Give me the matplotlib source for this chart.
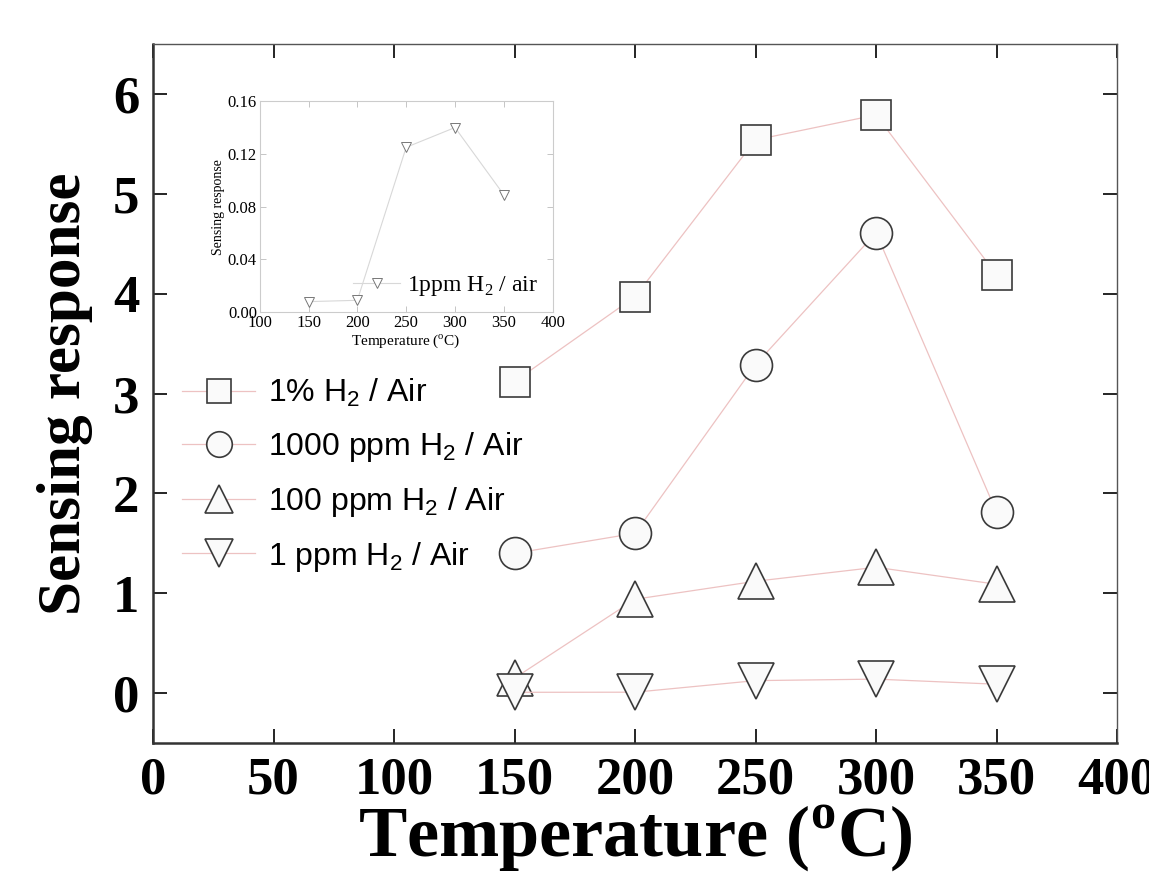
import matplotlib
matplotlib.use("Agg")
import matplotlib.pyplot as plt

plt.rcParams['mathtext.fontset'] = 'custom'
plt.rcParams['mathtext.rm'] = 'Liberation Serif'
plt.rcParams['mathtext.bf'] = 'Liberation Serif:bold'
plt.rcParams['mathtext.sf'] = 'Liberation Sans'

# данные
temps = [150, 200, 250, 300, 350]
h2_1pct = [3.12, 3.97, 5.54, 5.79, 4.19]
h2_1000ppm = [1.40, 1.60, 3.29, 4.61, 1.81]
h2_100ppm = [0.15, 0.94, 1.12, 1.26, 1.09]
h2_1ppm = [0.008, 0.009, 0.125, 0.14, 0.089]

labels = ['1% H$_{\\mathsf{2}}$ / Air', '1000 ppm H$_{\\mathsf{2}}$ / Air',
          '100 ppm H$_{\\mathsf{2}}$ / Air', '1 ppm H$_{\\mathsf{2}}$ / Air']
inset_label = '1ppm H$_{\\mathrm{2}}$ / air'

x_ticks = [0, 50, 100, 150, 200, 250, 300, 350, 400]
y_ticks = [0, 1, 2, 3, 4, 5, 6]
inset_x_ticks = [100, 150, 200, 250, 300, 350, 400]
inset_y_ticks = [0.00, 0.04, 0.08, 0.12, 0.16]

line_color = '#edc2c2'
edge = '#3a3a3a'
face = '#fafafa'

fig = plt.figure(figsize=(11.49, 8.72), dpi=100)
ax = fig.add_axes([0.1332, 0.1479, 0.839, 0.8016])

series = [h2_1pct, h2_1000ppm, h2_100ppm, h2_1ppm]
markers = ['s', 'o', '^', 'v']
sizes = [22, 23, 26, 26]
for vals, m, s, lab in zip(series, markers, sizes, labels):
    ax.plot(temps, vals, color=line_color, lw=0.9, marker=m, ms=s,
            mfc=face, mec=edge, mew=1.2, label=lab)

ax.set_xlim(0, 400)
ax.set_ylim(-0.5, 6.5)
ax.set_xticks(x_ticks)
ax.set_yticks(y_ticks)
ax.tick_params(direction='in', length=10, width=1.2, top=True, right=True,
               pad=10)
for t in ax.get_xticklabels() + ax.get_yticklabels():
    t.set_fontfamily('Liberation Serif')
    t.set_fontweight('bold')
    t.set_fontsize(38)
for side in ['left', 'bottom']:
    ax.spines[side].set_linewidth(1.8)
    ax.spines[side].set_color('#333333')
for side in ['top', 'right']:
    ax.spines[side].set_linewidth(1.0)
    ax.spines[side].set_color('#555555')

ax.set_xlabel('Temperature ($^{\\mathbf{o}}$C)', fontfamily='Liberation Serif',
              fontweight='bold', fontsize=52)
ax.xaxis.set_label_coords(0.5, -0.086)
ax.set_ylabel('Sensing response', fontfamily='Liberation Serif',
              fontweight='bold', fontsize=44)
ax.yaxis.set_label_coords(-0.062, 0.5)

leg = ax.legend(loc='upper left', bbox_to_anchor=(0.0, 0.565),
                frameon=False, prop={'family': 'Liberation Sans', 'size': 23},
                markerscale=0.8, handlelength=2.3, handletextpad=0.4,
                labelspacing=0.65)

# врезка
ins = fig.add_axes([0.226, 0.642, 0.255, 0.242])
ins.plot(temps, h2_1ppm, color='#d8d8d8', lw=0.8, marker='v', ms=7,
         mfc='white', mec='#777777', mew=0.7, label=inset_label)
ins.set_xlim(100, 400)
ins.set_ylim(0, 0.16)
ins.set_xticks(inset_x_ticks)
ins.set_yticks(inset_y_ticks)
ins.set_yticklabels([f'{v:.2f}' for v in inset_y_ticks])
ins.tick_params(direction='in', length=4, width=0.6, color='#bbbbbb',
                top=True, right=True, pad=2, labelsize=12)
for t in ins.get_xticklabels() + ins.get_yticklabels():
    t.set_fontfamily('Liberation Serif')
for sp in ins.spines.values():
    sp.set_color('#cccccc')
    sp.set_linewidth(0.8)
ins.set_xlabel('Temperature ($^{\\mathrm{o}}$C)', fontfamily='Liberation Serif',
               fontsize=11, labelpad=1)
ins.set_ylabel('Sensing response', fontfamily='Liberation Serif', fontsize=10,
               labelpad=2)
ins.legend(loc='lower right', frameon=False,
           prop={'family': 'Liberation Serif', 'size': 17},
           handlelength=2.0, handletextpad=0.3, borderaxespad=0.2)

fig.savefig('out.png', dpi=100)
